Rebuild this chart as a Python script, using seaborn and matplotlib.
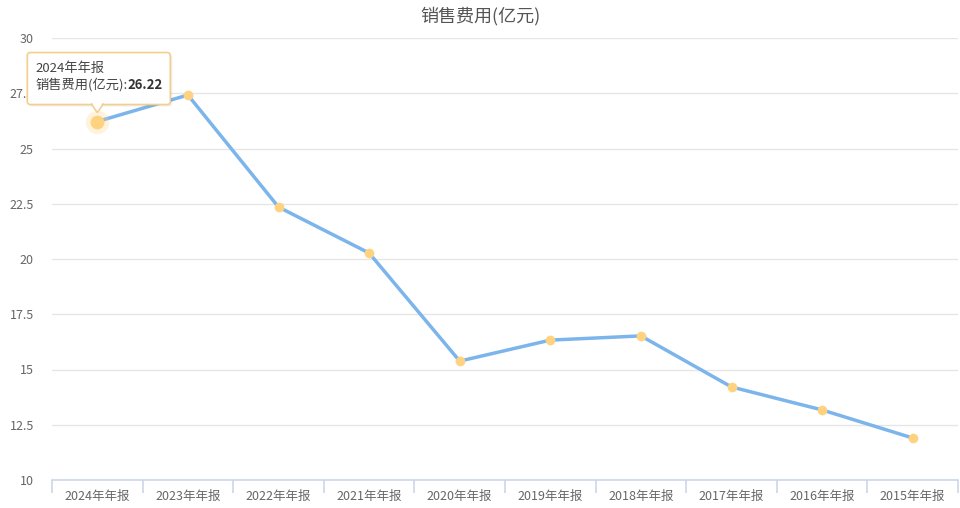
import numpy as np
import pandas as pd
import matplotlib
matplotlib.use('Agg')
import matplotlib.pyplot as plt
import matplotlib.transforms as mtransforms
from matplotlib.patches import FancyBboxPatch, Polygon
import seaborn as sns

# Data
categories = ['2024年年报', '2023年年报', '2022年年报', '2021年年报', '2020年年报',
              '2019年年报', '2018年年报', '2017年年报', '2016年年报', '2015年年报']
values = [26.22, 27.42, 22.35, 20.27, 15.38, 16.33, 16.52, 14.21, 13.17, 11.90]
y_ticks = [10, 12.5, 15, 17.5, 20, 22.5, 25, 27.5, 30]
title = '销售费用(亿元)'
series_name = '销售费用(亿元)'

df = pd.DataFrame({'report': categories, 'value': values})
df['pos'] = np.arange(len(df))

sns.set_style('white')
plt.rcParams['font.family'] = ['Noto Sans CJK SC', 'DejaVu Sans']

fig = plt.figure(figsize=(9.6, 5.08), dpi=100)
ax = fig.add_axes([52 / 960, 1 - 480 / 508, 906 / 960, 442 / 508])

sns.lineplot(data=df, x='pos', y='value', ax=ax, color='#7cb5ec', linewidth=2.5,
             marker='o', markersize=7, markerfacecolor='#ffd27f',
             markeredgewidth=0, zorder=3)

ax.set_xlim(-0.5, len(df) - 0.5)
ax.set_ylim(y_ticks[0], y_ticks[-1])
ax.set_yticks(y_ticks)
ax.set_yticklabels([f'{t:g}' for t in y_ticks])
ax.set_xticks(df['pos'])
ax.set_xticklabels(df['report'])
ax.set_xticks(np.arange(-0.5, len(df), 1), minor=True)
ax.tick_params(axis='x', which='major', length=0, pad=7, labelsize=9, labelcolor='#666666')
ax.tick_params(axis='x', which='minor', bottom=True, length=9, width=1.2,
               color='#ccd6eb', direction='out')
ax.tick_params(axis='y', length=0, pad=13, labelsize=9, labelcolor='#666666')
ax.set_xlabel('')
ax.set_ylabel('')
ax.grid(axis='y', color='#e6e6e6', linewidth=1)
ax.set_axisbelow(True)
for side in ['left', 'right', 'top']:
    ax.spines[side].set_visible(False)
ax.spines['bottom'].set_color('#ccd6eb')
ax.spines['bottom'].set_linewidth(1.2)

fig.text(0.5, 1 - 16 / 508, title, ha='center', va='center', fontsize=13, color='#555555')

# Tooltip on the first point
hx, hy = df['pos'].iloc[0], df['value'].iloc[0]
ax.plot([hx], [hy], 'o', markersize=17, color='#ffd27f', alpha=0.25, markeredgewidth=0, zorder=4)
ax.plot([hx], [hy], 'o', markersize=10, color='#ffd27f', markeredgewidth=0, zorder=5)

px, py = ax.transData.transform((hx, hy))
trans = mtransforms.Affine2D().translate(px, py)
box = FancyBboxPatch((-70, 17), 143, 52, boxstyle='round,pad=0,rounding_size=3',
                     facecolor='white', edgecolor='#f3cf8e', linewidth=1.2,
                     transform=trans, clip_on=False, zorder=10)
shadow = FancyBboxPatch((-68, 15), 143, 52, boxstyle='round,pad=0,rounding_size=3',
                        facecolor='#000000', alpha=0.06, edgecolor='none',
                        transform=trans, clip_on=False, zorder=9)
pointer = Polygon([(-6, 17.6), (6, 17.6), (0, 9)], closed=True, facecolor='white',
                  edgecolor='#f3cf8e', linewidth=1.2, transform=trans, clip_on=False, zorder=10)
cover = Polygon([(-5.2, 18.6), (5.2, 18.6), (0, 11)], closed=True, facecolor='white',
                edgecolor='none', transform=trans, clip_on=False, zorder=11)
for p in [shadow, box, pointer, cover]:
    fig.add_artist(p)

t1 = fig.text(-62, 53, categories[0], transform=trans, ha='left', va='center',
              fontsize=9.5, color='#444444', zorder=12)
t2 = fig.text(-62, 37, series_name + ':', transform=trans, ha='left', va='center',
              fontsize=9.5, color='#444444', zorder=12)
fig.add_artist(matplotlib.text.Annotation(f'{hy:.2f}', xy=(1, 0.5), xycoords=t2,
                                          ha='left', va='center', fontsize=9.5,
                                          fontweight='bold', color='#333333', zorder=12))

plt.savefig('out.png', dpi=100)
